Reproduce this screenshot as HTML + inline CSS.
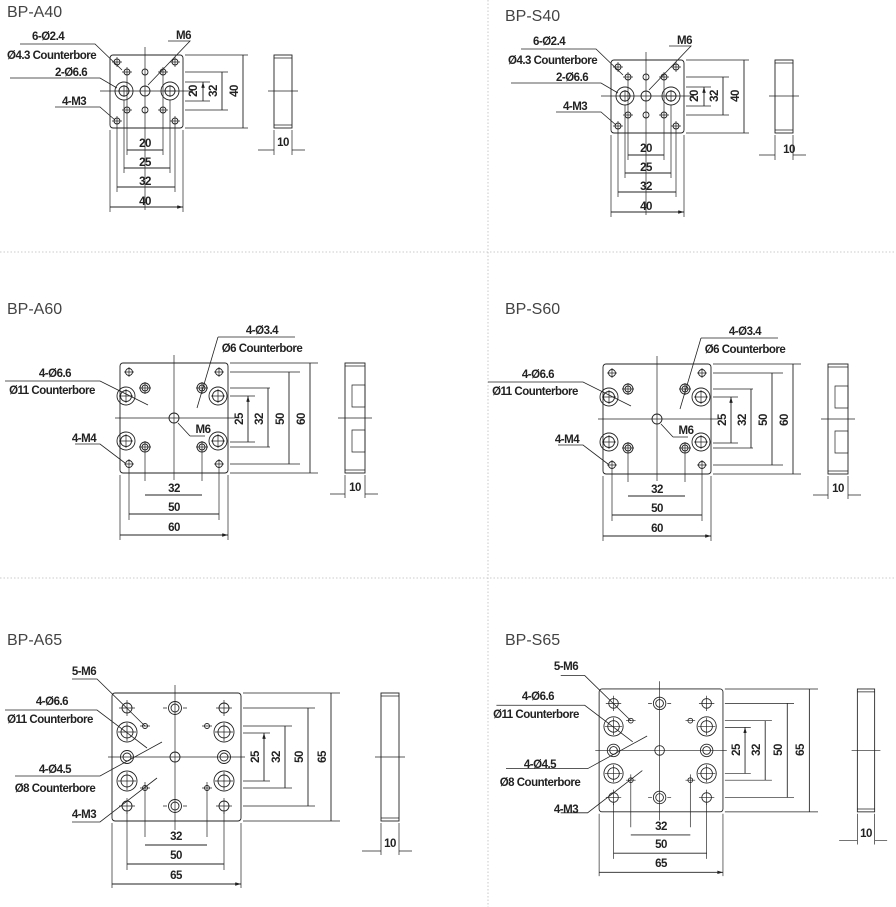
<!DOCTYPE html>
<html><head><meta charset="utf-8"><style>
html,body{margin:0;padding:0;background:#fff}
svg{display:block}
.t{font-family:"Liberation Sans",sans-serif;font-weight:bold;font-size:11.5px;fill:#222;letter-spacing:-0.5px}
.h{font-family:"Liberation Sans",sans-serif;font-size:16px;fill:#444}
</style></head><body>
<svg width="896" height="907" viewBox="0 0 896 907" xmlns="http://www.w3.org/2000/svg">
<defs>
<marker id="ae" viewBox="0 0 10 6" refX="10" refY="3" markerUnits="userSpaceOnUse" markerWidth="8" markerHeight="3.5" orient="auto"><path d="M0,0L10,3L0,6z" fill="#222"/></marker>
<marker id="as" viewBox="0 0 10 6" refX="0" refY="3" markerUnits="userSpaceOnUse" markerWidth="8" markerHeight="3.5" orient="auto"><path d="M10,0L0,3L10,6z" fill="#222"/></marker>
<g id="a40" fill="none" stroke="#222" stroke-width="0.9">
<rect x="110" y="55" width="73" height="73" rx="3"/>
<path d="M145 47V210M100 91H193" stroke-width="0.7"/>
<g>
<circle cx="117" cy="62" r="3"/><circle cx="175" cy="62" r="3"/><circle cx="117" cy="121" r="3"/><circle cx="175" cy="121" r="3"/>
<circle cx="127" cy="72" r="3"/><circle cx="145" cy="72" r="3"/><circle cx="163" cy="72" r="3"/>
<circle cx="127" cy="110" r="3"/><circle cx="145" cy="110" r="3"/><circle cx="163" cy="110" r="3"/>
<circle cx="124" cy="91" r="9"/><circle cx="124" cy="91" r="5"/><circle cx="170" cy="91" r="9"/><circle cx="170" cy="91" r="5"/><circle cx="145" cy="91" r="5"/>
<path d="M112 62h10M117 57v10M170 62h10M175 57v10M112 121h10M117 116v10M170 121h10M175 116v10M122 72h10M127 67v48M158 72h10M163 67v48M122 110h10M158 110h10M118 91h12M124 85v12M164 91h12M170 85v12" stroke-width="0.7"/>
</g>
<path d="M185 82H210M185 101H210M185 72H228M185 110H228M185 55H248M185 128H248M127 115V155M163 115V155M124 100V173M170 100V173M117 126V192M175 126V192M110 130V212M183 130V212" stroke-width="0.7"/>
<path d="M203 82V101M222 72V110M243 55V128M127 150H163M124 168H170M117 187H175M110 207H183" marker-start="url(#as)" marker-end="url(#ae)"/>
<rect x="274" y="55" width="18" height="73"/>
<path d="M274 58H292M274 125H292M268 91H298M274 130V155M292 130V155M258 150H274M292 150H305" stroke-width="0.7"/>
<path d="M20 44H95L122 70M10 78H100L117 88M55 107H100L115 120M168 41H190L148 85" stroke-width="0.8"/>
</g>
<g id="a60" fill="none" stroke="#222" stroke-width="0.9">
<rect x="120" y="363" width="108" height="110" rx="3"/>
<path d="M174 355V480M115 418H235" stroke-width="0.7"/>
<circle cx="129" cy="372" r="3.5"/><circle cx="219" cy="372" r="3.5"/><circle cx="129" cy="464" r="3.5"/><circle cx="219" cy="464" r="3.5"/>
<circle cx="145" cy="388" r="5"/><circle cx="202" cy="388" r="5"/><circle cx="145" cy="447" r="5"/><circle cx="202" cy="447" r="5"/>
<circle cx="145" cy="388" r="3"/><circle cx="202" cy="388" r="3"/><circle cx="145" cy="447" r="3"/><circle cx="202" cy="447" r="3"/>
<circle cx="126" cy="396" r="9"/><circle cx="126" cy="396" r="5.5"/><circle cx="218" cy="396" r="9"/><circle cx="218" cy="396" r="5.5"/>
<circle cx="126" cy="441" r="9"/><circle cx="126" cy="441" r="5.5"/><circle cx="218" cy="441" r="9"/><circle cx="218" cy="441" r="5.5"/>
<circle cx="174" cy="418" r="5"/>
<path d="M124 372h10M129 367v10M214 372h10M219 367v10M124 464h10M129 459v10M214 464h10M219 459v10M139 388h12M196 388h12M139 447h12M196 447h12M145 382v12M202 382v12M145 441v40M202 441v40M119 396h14M126 389v14M211 396h14M218 389v14M119 441h14M126 434v14M211 441h14M218 434v14M129 466V520M219 466V520" stroke-width="0.7"/>
<path d="M230 372H300M230 464H300M230 388H270M230 447H270M230 396H255M230 442H255M230 363H318M230 473H318M120 475V540M228 475V540" stroke-width="0.7"/>
<path d="M248 396V442M268 388V447M289 372V464M310 363V473M145 495H202M129 514H219M120 535H228" marker-start="url(#as)" marker-end="url(#ae)"/>
<rect x="345" y="363" width="20" height="110"/>
<path d="M352 385h13v22h-13zM352 430h13v22h-13zM345 366H365M345 470H365M338 418H372M345 475V498M365 475V498M330 494H345M365 494H378" stroke-width="0.7"/>
<path d="M5 381H100L148 405M75 444H100L125 463M218 337H295M218 337L197 408M190 436L178 423M190 436H205" stroke-width="0.8"/>
</g>
<g id="a65" fill="none" stroke="#222" stroke-width="0.9">
<rect x="112" y="693" width="129" height="128" rx="3"/>
<path d="M175 685V830M108 757H245" stroke-width="0.7"/>
<circle cx="127" cy="708" r="5"/><circle cx="175" cy="708" r="6.5"/><circle cx="175" cy="708" r="4"/><circle cx="224" cy="708" r="5"/>
<circle cx="127" cy="806" r="5"/><circle cx="175" cy="806" r="6.5"/><circle cx="175" cy="806" r="4"/><circle cx="224" cy="806" r="5"/>
<circle cx="127" cy="757" r="6.5"/><circle cx="127" cy="757" r="4"/><circle cx="175" cy="757" r="5"/><circle cx="224" cy="757" r="6.5"/><circle cx="224" cy="757" r="4"/>
<circle cx="127" cy="732" r="10"/><circle cx="127" cy="732" r="6"/><circle cx="224" cy="732" r="10"/><circle cx="224" cy="732" r="6"/>
<circle cx="127" cy="781" r="10"/><circle cx="127" cy="781" r="6"/><circle cx="224" cy="781" r="10"/><circle cx="224" cy="781" r="6"/>
<circle cx="145" cy="726" r="2.5"/><circle cx="207" cy="726" r="2.5"/><circle cx="145" cy="788" r="2.5"/><circle cx="207" cy="788" r="2.5"/>
<path d="M119 708h16M127 700v16M216 708h16M224 700v16M119 806h16M127 798v16M216 806h16M224 798v16M118 732h18M127 723v18M215 732h18M224 723v18M118 781h18M127 772v18M215 781h18M224 772v18M140 726h10M202 726h10M140 788h10M202 788h10M145 782v55M207 782v55M163 708h4M183 708h4M163 806h4M183 806h4" stroke-width="0.7"/>
<path d="M243 708H315M243 806H315M243 726H292M243 788H292M243 733H270M243 781H270M243 693H340M243 821H340M127 812V870M224 812V870M112 823V888M241 823V888" stroke-width="0.7"/>
<path d="M264 733V781M285 726V788M308 708V806M331 693V821M145 845H207M127 864H224M112 884H241" marker-start="url(#as)" marker-end="url(#ae)"/>
<rect x="381" y="693" width="18" height="128"/>
<path d="M381 696H399M381 818H399M375 757H405M381 823V855M399 823V855M362 851H381M399 851H412" stroke-width="0.7"/>
<path d="M72 679H97L145 726M5 710H97L147 748M15 776H100L162 742M72 822H100L157 778" stroke-width="0.8"/>
</g>
</defs>
<g stroke="#bbb" stroke-width="0.8" stroke-dasharray="1.5,2" fill="none">
<path d="M0 252H896M0 578H896M488 0V907"/>
</g>
<use href="#a40"/>
<use href="#a40" transform="translate(501,5)"/>
<use href="#a60"/>
<use href="#a60" transform="translate(483,1)"/>
<use href="#a65"/>
<use href="#a65" transform="translate(491.6,23.7) scale(0.96)"/>

<text class="h" x="7" y="17">BP-A40</text>
<text class="h" x="505" y="21">BP-S40</text>
<text class="h" x="7" y="314">BP-A60</text>
<text class="h" x="505" y="314">BP-S60</text>
<text class="h" x="7" y="645">BP-A65</text>
<text class="h" x="505" y="645">BP-S65</text>

<g class="t">
<text x="32" y="40">6-Ø2.4</text><text x="7" y="59">Ø4.3 Counterbore</text><text x="55" y="76">2-Ø6.6</text><text x="62" y="105">4-M3</text><text x="176" y="39">M6</text>
<text x="533" y="45">6-Ø2.4</text><text x="508" y="64">Ø4.3 Counterbore</text><text x="556" y="81">2-Ø6.6</text><text x="563" y="110">4-M3</text><text x="677" y="44">M6</text>
<g text-anchor="middle">
<text x="145" y="147">20</text><text x="145" y="166">25</text><text x="145" y="185">32</text><text x="145" y="205">40</text><text x="283" y="146">10</text>
<text x="646" y="152">20</text><text x="646" y="171">25</text><text x="646" y="190">32</text><text x="646" y="210">40</text><text x="789" y="153">10</text>
<text transform="translate(197,91) rotate(-90)">20</text><text transform="translate(217,91) rotate(-90)">32</text><text transform="translate(238,91) rotate(-90)">40</text>
<text transform="translate(698,96) rotate(-90)">20</text><text transform="translate(718,96) rotate(-90)">32</text><text transform="translate(739,96) rotate(-90)">40</text>

<text x="262" y="334">4-Ø3.4</text><text x="262" y="352">Ø6 Counterbore</text><text x="55" y="377">4-Ø6.6</text><text x="52" y="394">Ø11 Counterbore</text><text x="84" y="442">4-M4</text><text x="203" y="433">M6</text>
<text x="745" y="335">4-Ø3.4</text><text x="745" y="353">Ø6 Counterbore</text><text x="538" y="378">4-Ø6.6</text><text x="535" y="395">Ø11 Counterbore</text><text x="567" y="443">4-M4</text><text x="686" y="434">M6</text>
<text x="174" y="492">32</text><text x="174" y="511">50</text><text x="174" y="531">60</text><text x="355" y="491">10</text>
<text x="657" y="493">32</text><text x="657" y="512">50</text><text x="657" y="532">60</text><text x="838" y="492">10</text>
<text transform="translate(243,419) rotate(-90)">25</text><text transform="translate(263,419) rotate(-90)">32</text><text transform="translate(284,419) rotate(-90)">50</text><text transform="translate(305,419) rotate(-90)">60</text>
<text transform="translate(726,420) rotate(-90)">25</text><text transform="translate(746,420) rotate(-90)">32</text><text transform="translate(767,420) rotate(-90)">50</text><text transform="translate(788,420) rotate(-90)">60</text>

<text x="84" y="675">5-M6</text><text x="52" y="705">4-Ø6.6</text><text x="50" y="723">Ø11 Counterbore</text><text x="55" y="773">4-Ø4.5</text><text x="55" y="792">Ø8 Counterbore</text><text x="84" y="818">4-M3</text>
<text x="566" y="670">5-M6</text><text x="538" y="700">4-Ø6.6</text><text x="536" y="718">Ø11 Counterbore</text><text x="540" y="768">4-Ø4.5</text><text x="540" y="786">Ø8 Counterbore</text><text x="566" y="813">4-M3</text>
<text x="176" y="840">32</text><text x="176" y="859">50</text><text x="176" y="879">65</text><text x="390" y="847">10</text>
<text x="661" y="830">32</text><text x="661" y="848">50</text><text x="661" y="867">65</text><text x="866" y="837">10</text>
<text transform="translate(259,757) rotate(-90)">25</text><text transform="translate(280,757) rotate(-90)">32</text><text transform="translate(303,757) rotate(-90)">50</text><text transform="translate(326,757) rotate(-90)">65</text>
<text transform="translate(740,750) rotate(-90)">25</text><text transform="translate(760,750) rotate(-90)">32</text><text transform="translate(782,750) rotate(-90)">50</text><text transform="translate(804,750) rotate(-90)">65</text>
</g>
</g>
</svg>
</body></html>
